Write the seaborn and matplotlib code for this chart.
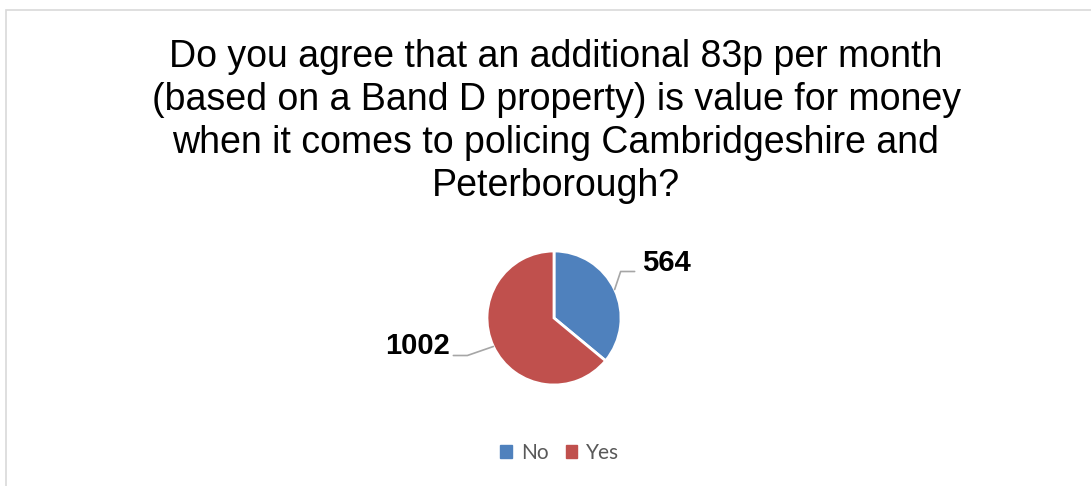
import numpy as np
import seaborn as sns
import matplotlib.pyplot as plt
from matplotlib.patches import Patch, Rectangle

# Data
categories = ["No", "Yes"]
counts = [564, 1002]
colors = ["#4F81BD", "#C0504D"]
title = ("Do you agree that an additional 83p per month\n"
         "(based on a Band D property) is value for money\n"
         "when it comes to policing Cambridgeshire and\n"
         "Peterborough?")

W, H = 1091, 486

sns.set_theme(style="white")
plt.rcParams['font.family'] = ['Liberation Sans', 'DejaVu Sans']

fig = plt.figure(figsize=(W / 100, H / 100), dpi=100)
ax = fig.add_axes([0, 0, 1, 1])

# light chart-area border (only top and left visible in the crop)
fig.patches.append(Rectangle((6 / W, -0.1), 1.2, (H - 10) / H + 0.1,
                             transform=fig.transFigure, fill=False,
                             edgecolor="#d9d9d9", linewidth=1.2))

cx, cy, r = 554, H - 318, 67
wedges, _ = ax.pie(counts, colors=colors, startangle=90, counterclock=False,
                   center=(cx, cy), radius=r, explode=[0.03, 0],
                   wedgeprops=dict(edgecolor="white", linewidth=2))

# data labels with leader lines
offsets = {"No": ((6, 18), 14, 7, "left"), "Yes": ((-26, -9), -14, -3, "right")}
for w, cat, n in zip(wedges, categories, counts):
    mid = np.deg2rad((w.theta1 + w.theta2) / 2)
    ex, ey = cx + r * np.cos(mid), cy + r * np.sin(mid)
    (dx, dy), run, gap, ha = offsets[cat]
    bx, by = ex + dx, ey + dy
    fx = bx + run
    ax.plot([ex, bx, fx], [ey, by, by], color="#a6a6a6", linewidth=1.2)
    ax.text(fx + gap, by + 9, str(n), ha=ha, va="center",
            fontsize=21, fontweight="bold", color="black")

ax.set_xlim(0, W)
ax.set_ylim(0, H)
ax.set_aspect("auto")
ax.axis("off")

fig.text(556 / W, 1 - 121 / H, title, ha="center", va="center",
         fontsize=27, linespacing=1.25, color="black")

handles = [Patch(facecolor=c, edgecolor=c) for c in colors]
leg = fig.legend(handles, categories, loc="center", ncol=2,
                 bbox_to_anchor=(560 / W, 1 - 453 / H), frameon=False,
                 handlelength=0.55, handleheight=0.55, handletextpad=0.45,
                 columnspacing=0.8, prop={"family": "Lato", "size": 15})
for t in leg.get_texts():
    t.set_color("#595959")

fig.savefig("out.png", dpi=100)
